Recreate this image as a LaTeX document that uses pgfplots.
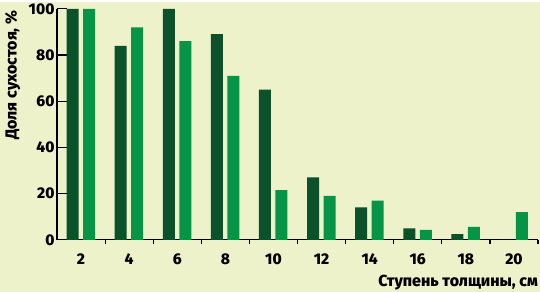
\documentclass[border=0pt]{standalone}
\usepackage{pgfplots}
\pgfplotsset{compat=1.18}
\usepackage{fontspec}
\setmainfont{Fira Sans}[BoldFont={Fira Sans ExtraBold}]
\definecolor{bg}{HTML}{EDF2CA}
\definecolor{dgreen}{HTML}{0B5129}
\definecolor{lgreen}{HTML}{069447}
\begin{document}
\begin{tikzpicture}[x=1bp,y=1bp]
\fill[bg] (0,0) rectangle (540,290);
\begin{axis}[
  at={(57bp,52bp)}, anchor=origin,
  scale only axis, width=481bp, height=231bp,
  xmin=1, xmax=21, ymin=0, ymax=100,
  axis x line*=bottom, axis y line*=left,
  axis line style={black, line width=1.3bp, -},
  xtick={2,4,...,20}, ytick={0,20,...,100},
  minor xtick={3,5,...,21},
  major x tick style={draw=none},
  tick align=inside,
  major tick length=10bp, minor tick length=4bp,
  tick style={black, line width=1.2bp},
  ticklabel style={font=\bfseries\fontsize{15.5bp}{17bp}\selectfont},
  /pgf/number format/assume math mode=true,
  xticklabel style={yshift=0bp},
  yticklabel style={xshift=1bp},
  ybar, bar width=12bp,
  clip=false,
]
\addplot[fill=dgreen, draw=none, bar shift=-8.5bp] coordinates {
 (2,100) (4,84) (6,100) (8,89) (10,65) (12,27) (14,14) (16,5) (18,2.5) (20,0)};
\addplot[fill=lgreen, draw=none, bar shift=8bp] coordinates {
 (2,100) (4,92) (6,86) (8,71) (10,21.5) (12,19) (14,17) (16,4.3) (18,5.6) (20,12)};
\end{axis}
\node[anchor=base east, font=\bfseries\fontsize{16bp}{18bp}\selectfont, inner sep=0pt] at (538,5) {Ступень толщины, см};
\node[rotate=90, anchor=base west, font=\bfseries\fontsize{16bp}{18bp}\selectfont, inner sep=0pt] at (16.5,152) {Доля сухостоя, \%};
\end{tikzpicture}
\end{document}
